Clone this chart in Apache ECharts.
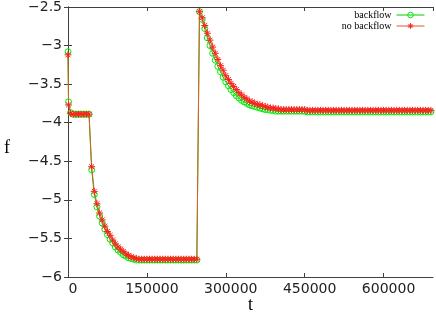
<!DOCTYPE html>
<html>
<head>
<meta charset="utf-8">
<script src="https://cdn.jsdelivr.net/npm/echarts@6/dist/echarts.min.js"></script>
<style>html,body{margin:0;padding:0;background:#fff;}#c{width:436px;height:314px;}</style>
</head>
<body>
<div id="c"></div>
<script>
// time values (t)
var tValues = [
  0, 1000, 5000, 10000, 15000, 20000, 25000, 30000, 35000, 40000,
  45000, 50000, 55000, 60000, 65000, 70000, 75000, 80000, 85000, 90000,
  95000, 100000, 105000, 110000, 115000, 120000, 125000, 130000,
  135000, 140000, 145000, 150000, 155000, 160000, 165000, 170000, 175000, 180000,
  185000, 190000, 195000, 200000, 205000, 210000, 215000, 220000, 225000, 230000,
  235000, 240000, 245000,
  250000,
  255000, 260000, 265000, 270000, 275000, 280000, 285000, 290000, 295000, 300000,
  305000, 310000, 315000, 320000, 325000, 330000, 335000, 340000, 345000, 350000,
  355000, 360000, 365000, 370000, 375000, 380000, 385000, 390000, 395000, 400000,
  405000, 410000, 415000, 420000, 425000, 430000, 435000, 440000, 445000, 450000,
  455000, 460000, 465000, 470000, 475000, 480000, 485000, 490000, 495000, 500000,
  505000, 510000, 515000, 520000, 525000, 530000, 535000, 540000, 545000, 550000,
  555000, 560000, 565000, 570000, 575000, 580000, 585000, 590000, 595000, 600000,
  605000, 610000, 615000, 620000, 625000, 630000, 635000, 640000, 645000, 650000,
  655000, 660000, 665000, 670000, 675000, 680000, 685000, 690000
];
// f values, "backflow"
var backflow = [
  -3.08, -3.73, -3.87, -3.89, -3.89, -3.89, -3.89, -3.89, -3.89, -3.89,
  -4.61, -4.93, -5.09, -5.21, -5.30, -5.38, -5.45, -5.51, -5.56, -5.61,
  -5.65, -5.68, -5.71, -5.73, -5.75, -5.76, -5.77, -5.78,
  -5.78, -5.78, -5.78, -5.78, -5.78, -5.78, -5.78, -5.78, -5.78, -5.78,
  -5.78, -5.78, -5.78, -5.78, -5.78, -5.78, -5.78, -5.78, -5.78, -5.78,
  -5.78, -5.78, -5.78,
  -2.56,
  -2.66, -2.78, -2.90, -3.00, -3.10, -3.19, -3.27, -3.34, -3.41, -3.47,
  -3.52, -3.57, -3.61, -3.65, -3.68, -3.71, -3.73, -3.75, -3.77, -3.78,
  -3.79, -3.80, -3.81, -3.82, -3.83, -3.83, -3.84, -3.84, -3.85, -3.85,
  -3.85, -3.85, -3.85, -3.85, -3.85, -3.85, -3.85, -3.85, -3.85, -3.85,
  -3.86, -3.86, -3.86, -3.86, -3.86, -3.86, -3.86, -3.86, -3.86, -3.86,
  -3.86, -3.86, -3.86, -3.86, -3.86, -3.86, -3.86, -3.86, -3.86, -3.86,
  -3.86, -3.86, -3.86, -3.86, -3.86, -3.86, -3.86, -3.86, -3.86, -3.86,
  -3.86, -3.86, -3.86, -3.86, -3.86, -3.86, -3.86, -3.86, -3.86, -3.86,
  -3.86, -3.86, -3.86, -3.86, -3.86, -3.86, -3.86, -3.86
];
// f values, "no backflow"
var noBackflow = [
  -3.12, -3.77, -3.88, -3.89, -3.89, -3.89, -3.89, -3.89, -3.89, -3.89,
  -4.57, -4.89, -5.05, -5.17, -5.26, -5.34, -5.41, -5.46, -5.52, -5.57,
  -5.61, -5.64, -5.67, -5.70, -5.72, -5.74, -5.75, -5.76,
  -5.77, -5.77, -5.77, -5.77, -5.77, -5.77, -5.77, -5.77, -5.77, -5.77,
  -5.77, -5.77, -5.77, -5.77, -5.77, -5.77, -5.77, -5.77, -5.77, -5.77,
  -5.77, -5.77, -5.77,
  -2.56,
  -2.64, -2.74, -2.84, -2.93, -3.02, -3.10, -3.18, -3.26, -3.32, -3.39,
  -3.44, -3.49, -3.53, -3.57, -3.61, -3.64, -3.67, -3.69, -3.72, -3.73,
  -3.75, -3.76, -3.77, -3.78, -3.79, -3.80, -3.81, -3.81, -3.82, -3.82,
  -3.83, -3.83, -3.83, -3.83, -3.83, -3.83, -3.83, -3.83, -3.83, -3.83,
  -3.84, -3.84, -3.84, -3.84, -3.84, -3.84, -3.84, -3.84, -3.84, -3.84,
  -3.84, -3.84, -3.84, -3.84, -3.84, -3.84, -3.84, -3.84, -3.84, -3.84,
  -3.84, -3.84, -3.84, -3.84, -3.84, -3.84, -3.84, -3.84, -3.84, -3.84,
  -3.84, -3.84, -3.84, -3.84, -3.84, -3.84, -3.84, -3.84, -3.84, -3.84,
  -3.84, -3.84, -3.84, -3.84, -3.84, -3.84, -3.84, -3.84
];
var seriesNames = ['backflow', 'no backflow'];
var xTitle = 't';
var yTitle = 'f';

function pairs(xs, ys) { return xs.map(function (x, i) { return [x, ys[i]]; }); }

var axisColor = '#404040';
var tickFont = { fontFamily: 'DejaVu Sans', fontSize: 14, color: '#222' };
var chart = echarts.init(document.getElementById('c'), null, { renderer: 'canvas' });
var starPath = 'path://M5,0L5,10M0,5L10,5M1.5,1.5L8.5,8.5M1.5,8.5L8.5,1.5';

chart.setOption({
  animation: false,
  backgroundColor: '#fff',
  grid: { left: 68, right: 3, top: 5, bottom: 37 },
  legend: {
    data: seriesNames,
    orient: 'vertical',
    right: 11,
    top: 10,
    padding: 0,
    align: 'right',
    itemWidth: 28,
    itemHeight: 7,
    itemGap: 1,
    lineStyle: { width: 1 },
    itemStyle: { borderWidth: 1 },
    textStyle: { fontFamily: 'Liberation Serif', fontSize: 10, lineHeight: 8, color: '#000' }
  },
  xAxis: [{
    type: 'value', min: 0, max: 694000, interval: 150000, position: 'bottom',
    axisLine: { show: true, lineStyle: { color: axisColor, width: 1 } },
    axisTick: { show: true, inside: true, length: 4, lineStyle: { color: axisColor } },
    splitLine: { show: false },
    axisLabel: Object.assign({ margin: 5, showMaxLabel: false, padding: [0, 0, 0, 10],
      formatter: function (v) { return String(v); } }, tickFont)
  }, {
    type: 'value', min: 0, max: 694000, interval: 150000, position: 'top',
    axisLine: { show: true, lineStyle: { color: axisColor, width: 1 } },
    axisTick: { show: true, inside: true, length: 4, lineStyle: { color: axisColor } },
    splitLine: { show: false }, axisLabel: { show: false }
  }],
  yAxis: [{
    type: 'value', min: -6, max: -2.5, interval: 0.5, position: 'left',
    axisLine: { show: true, lineStyle: { color: axisColor, width: 1 } },
    axisTick: { show: true, inside: true, length: 4, lineStyle: { color: axisColor } },
    splitLine: { show: false },
    axisLabel: Object.assign({ margin: 6,
      formatter: function (v) { return String(v).replace('-', '\u2212'); } }, tickFont)
  }, {
    type: 'value', min: -6, max: -2.5, interval: 0.5, position: 'right',
    axisLine: { show: true, lineStyle: { color: axisColor, width: 1 } },
    axisTick: { show: true, inside: true, length: 4, lineStyle: { color: axisColor } },
    splitLine: { show: false }, axisLabel: { show: false }
  }],
  graphic: [
    { type: 'text', left: 4, top: 139, style: { text: yTitle, fontFamily: 'Liberation Serif', fontSize: 18, fill: '#000' } },
    { type: 'text', left: 248, top: 296, style: { text: xTitle, fontFamily: 'Liberation Serif', fontSize: 18, fill: '#000' } }
  ],
  series: [{
    name: seriesNames[0], type: 'line', xAxisIndex: 0, yAxisIndex: 0,
    data: pairs(tValues, backflow),
    symbol: 'circle', symbolSize: 6, showAllSymbol: true,
    itemStyle: { color: 'rgba(0,0,0,0)', borderColor: '#00ee00', borderWidth: 1 },
    lineStyle: { color: '#00cc00', width: 1 },
    z: 2
  }, {
    name: seriesNames[1], type: 'line', xAxisIndex: 0, yAxisIndex: 0,
    data: pairs(tValues, noBackflow),
    symbol: starPath, symbolSize: 7, showAllSymbol: true,
    itemStyle: { color: '#ff0000', borderColor: '#ff2020', borderWidth: 1 },
    lineStyle: { color: '#e05a28', width: 1 },
    z: 3
  }]
});
</script>
</body>
</html>
